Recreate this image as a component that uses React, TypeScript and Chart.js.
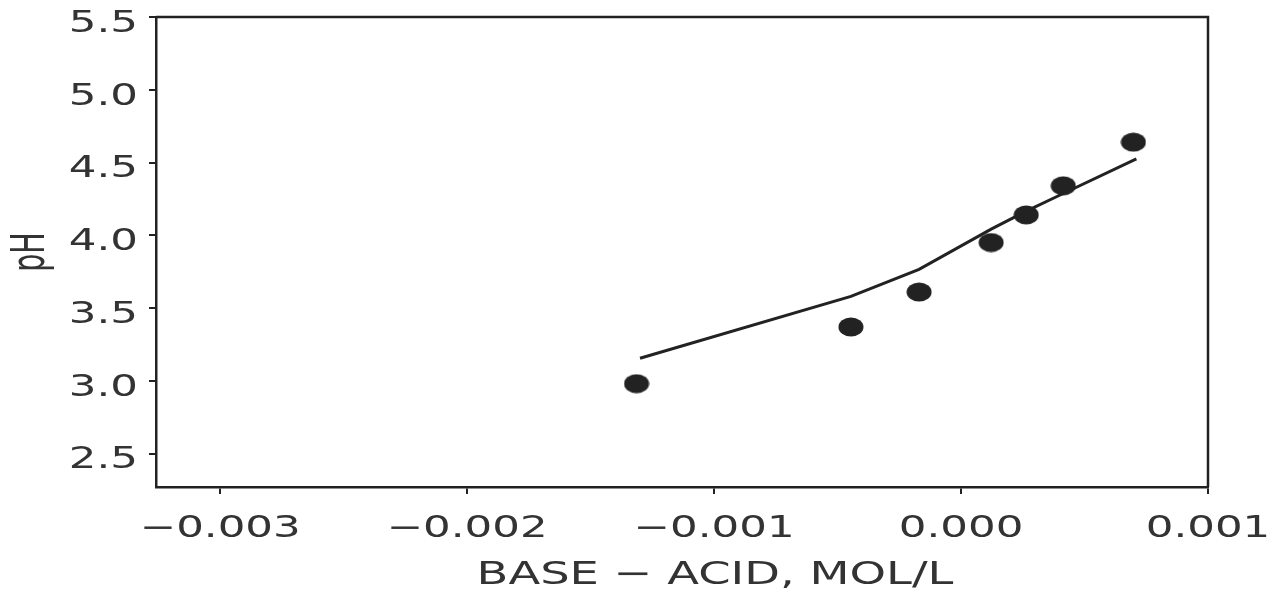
import React, { useEffect, useRef } from "react";
import { Chart, registerables } from "chart.js";

Chart.register(...registerables);

// Measured points (filled dots)
const measuredX = [-0.001314, -0.000446, -0.00017, 0.000122, 0.000264, 0.000414, 0.000698];
const measuredPH = [2.98, 3.37, 3.61, 3.95, 4.14, 4.34, 4.64];

// Model curve (solid line)
const modelX = [-0.0013, -0.000446, -0.00017, 0.000122, 0.000264, 0.000414, 0.00071];
const modelPH = [3.155, 3.58, 3.766, 4.042, 4.166, 4.287, 4.525];

// Axis ticks
const xTicks = [-0.003, -0.002, -0.001, 0, 0.001];
const xTickLabels = ["\u22120.003", "\u22120.002", "\u22120.001", "0.000", "0.001"];
const yTicks = [2.5, 3.0, 3.5, 4.0, 4.5, 5.0, 5.5];
const yTickLabels = ["2.5", "3.0", "3.5", "4.0", "4.5", "5.0", "5.5"];

const xTitle = "BASE \u2212 ACID, MOL/L";
const yTitle = "pH";

const INK = "#222222";
const TEXT = "#333333";
const FONT = "'DejaVu Sans', sans-serif";

export default function App() {
  const ref = useRef<HTMLCanvasElement | null>(null);

  useEffect(() => {
    const canvas = ref.current;
    if (!canvas) return;

    // Plotter-style lettering: stretch glyphs along the text direction.
    const ctx2d = canvas.getContext("2d") as any;
    if (ctx2d && !ctx2d.__stretched) {
      const orig = ctx2d.fillText;
      ctx2d.fillText = function (text: string, x: number, y: number) {
        const s = text === yTitle ? 0.62 : 1.45;
        this.save();
        this.translate(x, y);
        this.scale(s, 1);
        orig.call(this, text, 0, 0);
        this.restore();
      };
      ctx2d.__stretched = true;
    }

    const dot = document.createElement("canvas");
    dot.width = 26;
    dot.height = 20;
    const dc = dot.getContext("2d")!;
    dc.fillStyle = INK;
    dc.beginPath();
    dc.ellipse(13, 10, 12.5, 9.5, 0, 0, Math.PI * 2);
    dc.fill();

    const xTitlePlugin = {
      id: "xTitle",
      afterDraw(chart: any) {
        const ctx = chart.ctx;
        const area = chart.chartArea;
        ctx.save();
        ctx.fillStyle = TEXT;
        ctx.font = `32px ${FONT}`;
        ctx.textAlign = "center";
        ctx.textBaseline = "middle";
        ctx.fillText(xTitle, (area.left + area.right) / 2 + 33, 576);
        ctx.restore();
      },
    };

    const framePlugin = {
      id: "frame",
      afterDatasetsDraw(c: any) {
        const { ctx, chartArea: a } = c;
        ctx.save();
        ctx.strokeStyle = INK;
        ctx.lineWidth = 2.5;
        ctx.beginPath();
        ctx.moveTo(a.left, a.top);
        ctx.lineTo(a.right, a.top);
        ctx.lineTo(a.right, a.bottom);
        ctx.stroke();
        ctx.restore();
      },
    };

    const chart = new Chart(canvas, {
      type: "scatter",
      data: {
        datasets: [
          {
            label: "measured",
            data: measuredX.map((x, i) => ({ x, y: measuredPH[i] })),
            showLine: false,
            pointStyle: dot as any,
            pointRadius: 10,
            backgroundColor: INK,
            borderColor: INK,
          },
          {
            label: "model",
            data: modelX.map((x, i) => ({ x, y: modelPH[i] })),
            showLine: true,
            borderColor: INK,
            borderWidth: 3,
            pointRadius: 0,
            tension: 0,
          },
        ],
      },
      options: {
        animation: false,
        responsive: true,
        maintainAspectRatio: false,
        layout: { padding: { top: 17, right: 71, bottom: 0, left: 0 } },
        plugins: {
          legend: { display: false },
          tooltip: { enabled: false },
        },
        scales: {
          x: {
            type: "linear",
            min: -0.00326,
            max: 0.001,
            afterBuildTicks: (scale: any) => {
              scale.ticks = xTicks.map((v) => ({ value: v }));
            },
            afterFit: (scale: any) => {
              scale.height = 109;
              scale.paddingLeft = 0;
              scale.paddingRight = 0;
            },
            ticks: {
              color: TEXT,
              font: { family: FONT, size: 30 },
              padding: 17,
              maxRotation: 0,
              autoSkip: false,
              callback: (_v: any, i: number) => xTickLabels[i],
            },
            grid: {
              display: true,
              drawOnChartArea: false,
              drawTicks: true,
              tickLength: 7,
              color: INK,
              lineWidth: 2,
            },
            border: { display: true, color: INK, width: 2.5 },
            title: { display: false },
          },
          y: {
            type: "linear",
            min: 2.27,
            max: 5.5,
            afterBuildTicks: (scale: any) => {
              scale.ticks = yTicks.map((v) => ({ value: v }));
            },
            afterFit: (scale: any) => {
              scale.width = 156;
              scale.paddingTop = 0;
              scale.paddingBottom = 0;
            },
            ticks: {
              color: TEXT,
              font: { family: FONT, size: 30 },
              padding: 11,
              labelOffset: 7,
              autoSkip: false,
              callback: (_v: any, i: number) => yTickLabels[i],
            },
            grid: {
              display: true,
              drawOnChartArea: false,
              drawTicks: true,
              tickLength: 7,
              color: INK,
              lineWidth: 2,
            },
            border: { display: true, color: INK, width: 2.5 },
            title: {
              display: true,
              text: yTitle,
              color: TEXT,
              font: { family: FONT, size: 46 },
              padding: { top: 4, bottom: 0 },
            },
          },
        },
      },
      plugins: [xTitlePlugin, framePlugin],
    } as any);

    return () => chart.destroy();
  }, []);

  return (
    <div
      style={{
        position: "absolute",
        left: 0,
        top: 0,
        width: "1279px",
        height: "596px",
        background: "#ffffff",
      }}
    >
      <canvas ref={ref} />
    </div>
  );
}
